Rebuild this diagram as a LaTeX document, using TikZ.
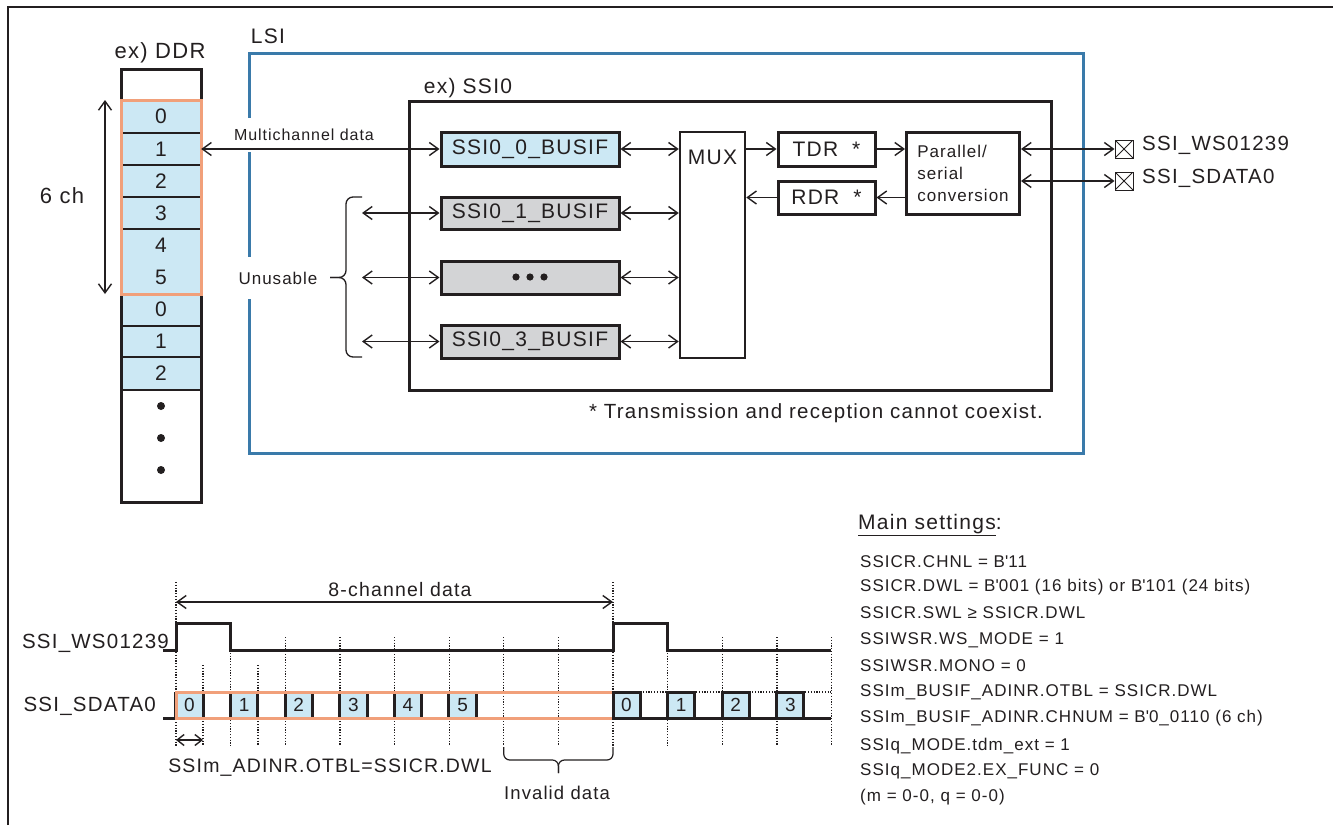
\documentclass[tikz,border=0pt]{standalone}
\usepackage{fontspec}
\setmainfont{Liberation Sans}[LetterSpace=6]
\usetikzlibrary{arrows.meta}
\definecolor{lblue}{RGB}{204,232,244}
\definecolor{lgray}{RGB}{211,212,214}
\definecolor{orng}{RGB}{241,160,122}
\definecolor{lsiblue}{RGB}{58,122,170}
\definecolor{ink}{RGB}{35,31,32}
\newcommand{\myfs}[1]{\fontsize{#1}{#1}\selectfont}
\tikzset{
  box/.style={draw=ink, line width=3pt, inner sep=0pt},
  lbl/.style={inner sep=0pt, text=ink},
  cell/.style={lbl, minimum width=80pt, minimum height=32pt},
  conn/.style={draw=ink, line width=1.4pt, >={Straight Barb[length=9pt,width=13pt]}},
  sig/.style={draw=ink, line width=3pt},
  dotl/.style={draw=ink, line width=1.2pt, dash pattern=on 1.2pt off 1.6pt},
  slot/.style={lbl, fill=lblue, minimum width=27pt, minimum height=26pt, font=\myfs{19}},
  pin/.style={draw=ink, line width=1pt, minimum size=18pt, inner sep=0pt,
    path picture={\draw[ink,line width=0.8pt] (path picture bounding box.north west) -- (path picture bounding box.south east) (path picture bounding box.north east) -- (path picture bounding box.south west);}},
}
\begin{document}
\begin{tikzpicture}[x=1pt,y=-1pt, font=\myfs{21}, text=ink]
\useasboundingbox (0,0) rectangle (1333,825);
\fill[white] (0,0) rectangle (1333,825);
\draw[ink, line width=2pt] (8,825) -- (8,7) -- (1333,7);

% ---------- DDR column ----------
\node[lbl, font=\myfs{22}] (ddrt) at (160,53) {ex) DDR};
\fill[lblue] (121,100) rectangle (201,390);
\draw[ink, line width=3pt] (121,69) rectangle (201,502);
\foreach \y in {133,165,197,229,326,357,390} \draw[ink, line width=1.5pt] (121,\y) -- (201,\y);
\node[cell] (c0) at (161,116.5) {0};
\node[cell] (c1) at (161,149) {1};
\node[cell] (c2) at (161,181) {2};
\node[cell] (c3) at (161,213) {3};
\node[cell] (c4) at (161,245.5) {4};
\node[cell] (c5) at (161,277.5) {5};
\node[cell] (c6) at (161,309.5) {0};
\node[cell] (c7) at (161,341.5) {1};
\node[cell] (c8) at (161,373.5) {2};
\foreach \y in {406,438,470} \fill[ink] (161,\y) circle (4pt);
\node[draw=orng, line width=3pt, minimum width=80pt, minimum height=194pt, inner sep=0pt] (ddrsel) at (161,197) {};
\coordinate (ch6a) at (105,100);
\coordinate (ch6b) at (105,294);
\draw[conn,<->] (ch6a) -- (ch6b);
\node[lbl, font=\myfs{22}] (ch6) at (62,196) {6 ch};

% ---------- LSI ----------
\node[draw=lsiblue, line width=3pt, minimum width=834pt, minimum height=400pt, inner sep=0pt] (lsi) at (666,253) {};
\node[lbl] (lsit) at (268,36) {LSI};
\node[box, minimum width=642pt, minimum height=289pt] (ssi0) at (730,245.5) {};
\node[lbl] (ssi0t) at (468,88) {ex) SSI0};

\node[box, fill=lblue, minimum width=178pt, minimum height=34pt] (busif0) at (530,149) {SSI0\_0\_BUSIF};
\node[box, fill=lgray, minimum width=178pt, minimum height=32pt] (busif1) at (530,213) {SSI0\_1\_BUSIF};
\node[box, fill=lgray, minimum width=178pt, minimum height=33pt] (busifd) at (530,277.5) {};
\foreach \x in {516,530,544} \fill[ink] (\x,277) circle (3.6pt);
\node[box, fill=lgray, minimum width=178pt, minimum height=33pt] (busif3) at (530,341.5) {SSI0\_3\_BUSIF};

\node[box, line width=2.5pt, minimum width=65pt, minimum height=226pt] (mux) at (712.5,245) {};
\node[lbl] (muxt) at (712.5,157) {MUX};
\node[box, minimum width=97pt, minimum height=34pt] (tdr) at (826.5,149) {TDR\hspace{14pt}*};
\node[box, minimum width=97pt, minimum height=33pt] (rdr) at (826.5,197.5) {RDR\hspace{14pt}*};
\node[box, minimum width=113pt, minimum height=82pt, align=left, font=\fontsize{17}{22}\selectfont] (ps) at (963,173) {Parallel/\\serial\\conversion};

\node[pin] (pin1) at (1124,149) {};
\node[pin] (pin2) at (1124,181) {};
\node[lbl, anchor=west, font=\myfs{20.5}] (pin1t) at (1142,145) {SSI\_WS01239};
\node[lbl, anchor=west, font=\myfs{20.5}] (pin2t) at (1142,178) {SSI\_SDATA0};

\node[lbl, font=\myfs{20.5}] (note) at (816,413) {* Transmission and reception cannot coexist.};

% labels with white background over the LSI border
\node[lbl, fill=white, minimum height=34pt, font=\myfs{16}] (mcl) at (304,135) {Multichannel data};
\node[lbl, fill=white, minimum height=42pt, font=\myfs{17}] (unus) at (278,278) {Unusable};

% connectors
\draw[conn,<->] (c1.east) -- (busif0.west);
\coordinate (u1) at (362,213);
\coordinate (u2) at (362,277.5);
\coordinate (u3) at (362,341.5);
\draw[conn,<->] (u1) -- (busif1.west);
\draw[conn,<->] (u2) -- (busifd.west);
\draw[conn,<->] (u3) -- (busif3.west);
\draw[ink, line width=1.3pt, rounded corners=7pt] (362,197) -- (346,197) -- (346,277.5) -- (330,277.5);
\draw[ink, line width=1.3pt, rounded corners=7pt] (362,357) -- (346,357) -- (346,277.5) -- (330,277.5);

\foreach \b in {busif0,busif1,busifd,busif3}
  \draw[conn,<->] (\b.east) -- (\b.east -| mux.west);
\draw[conn,->] (tdr.west -| mux.east) -- (tdr.west);
\draw[conn,->] (rdr.west) -- (rdr.west -| mux.east);
\draw[conn,->] (tdr.east) -- (tdr.east -| ps.west);
\draw[conn,->] (rdr.east -| ps.west) -- (rdr.east);
\draw[conn,<->] (pin1.west -| ps.east) -- (pin1.west);
\draw[conn,<->] (pin2.west -| ps.east) -- (pin2.west);

% ---------- Timing ----------
\node[lbl, font=\myfs{19.5}] (chl) at (400,590) {8-channel data};
\coordinate (a8l) at (176,602);
\coordinate (a8r) at (613,602);
\foreach \x/\yt in {176/582, 203/665, 230.6/650, 258/665, 285.25/637, 339.9/637, 394.5/637, 449.1/637, 503.75/637, 558.4/637, 613/582, 667.6/650, 722.25/637, 776.9/637, 831.5/637}
  \draw[dotl] (\x,\yt) -- (\x,746);
\draw[conn,<->] (a8l) -- (a8r);

\node[lbl, anchor=east, font=\myfs{20.5}] (wsl) at (169,643) {SSI\_WS01239};
\node[lbl, anchor=east, font=\myfs{20.5}] (sdl) at (156,706) {SSI\_SDATA0};
\draw[sig, line join=miter] (163,650) -- (176,650) -- (176,623) -- (230.6,623) -- (230.6,650) -- (613,650) -- (613,623) -- (667.6,623) -- (667.6,650) -- (831,650);

\draw[sig] (163,718) -- (176,718);
\foreach \i in {0,...,5} {
  \pgfmathsetmacro{\cx}{176+\i*54.625+13.5}
  \node[slot] (d\i) at (\cx,705) {\i};
  \draw[ink, line width=3pt] (d\i.north west) -- (d\i.south west) (d\i.north east) -- (d\i.south east);
}
\node[draw=orng, line width=3pt, minimum width=437pt, minimum height=26pt, inner sep=0pt] (frame) at (394.5,705) {};

\draw[dotl] (640,692) -- (831,692);
\draw[sig] (613,718) -- (831,718);
\foreach \i in {0,...,3} {
  \pgfmathsetmacro{\cx}{613+\i*54.625+13.5}
  \node[slot, draw=ink, line width=3pt] (e\i) at (\cx,705) {\i};
}

\coordinate (ol) at (176,740);
\coordinate (orr) at (203,740);
\draw[conn,<->, >={Straight Barb[length=7pt,width=11pt]}] (ol) -- (orr);
\node[lbl, font=\myfs{19.5}] (otbl) at (330,768) {SSIm\_ADINR.OTBL=SSICR.DWL};

\draw[ink, line width=1.2pt, rounded corners=6pt] (503.75,747) -- (503.75,760) -- (558.4,760) -- (558.4,773);
\draw[ink, line width=1.2pt, rounded corners=6pt] (613,747) -- (613,760) -- (558.4,760) -- (558.4,773);
\node[lbl, font=\myfs{18.5}] (inv) at (557,793) {Invalid data};

% ---------- Main settings ----------
\node[lbl, anchor=west, font=\myfs{21}] (ms) at (858,525) {\underline{Main settings}:};
\node[lbl, anchor=west, font=\myfs{17}] (s1) at (860,562) {SSICR.CHNL = B\textquotesingle 11};
\node[lbl, anchor=west, font=\myfs{17}] (s2) at (860,587) {SSICR.DWL = B\textquotesingle 001 (16 bits) or B\textquotesingle 101 (24 bits)};
\node[lbl, anchor=west, font=\myfs{17}] (s3) at (860,613) {SSICR.SWL ≥ SSICR.DWL};
\node[lbl, anchor=west, font=\myfs{17}] (s4) at (860,640) {SSIWSR.WS\_MODE = 1};
\node[lbl, anchor=west, font=\myfs{17}] (s5) at (860,666) {SSIWSR.MONO = 0};
\node[lbl, anchor=west, font=\myfs{17}] (s6) at (860,692) {SSIm\_BUSIF\_ADINR.OTBL = SSICR.DWL};
\node[lbl, anchor=west, font=\myfs{17}] (s7) at (860,718) {SSIm\_BUSIF\_ADINR.CHNUM = B\textquotesingle 0\_0110 (6 ch)};
\node[lbl, anchor=west, font=\myfs{17}] (s8) at (860,746) {SSIq\_MODE.tdm\_ext = 1};
\node[lbl, anchor=west, font=\myfs{17}] (s9) at (860,771) {SSIq\_MODE2.EX\_FUNC = 0};
\node[lbl, anchor=west, font=\myfs{17}] (s10) at (860,797) {(m = 0-0, q = 0-0)};
\end{tikzpicture}
\end{document}
